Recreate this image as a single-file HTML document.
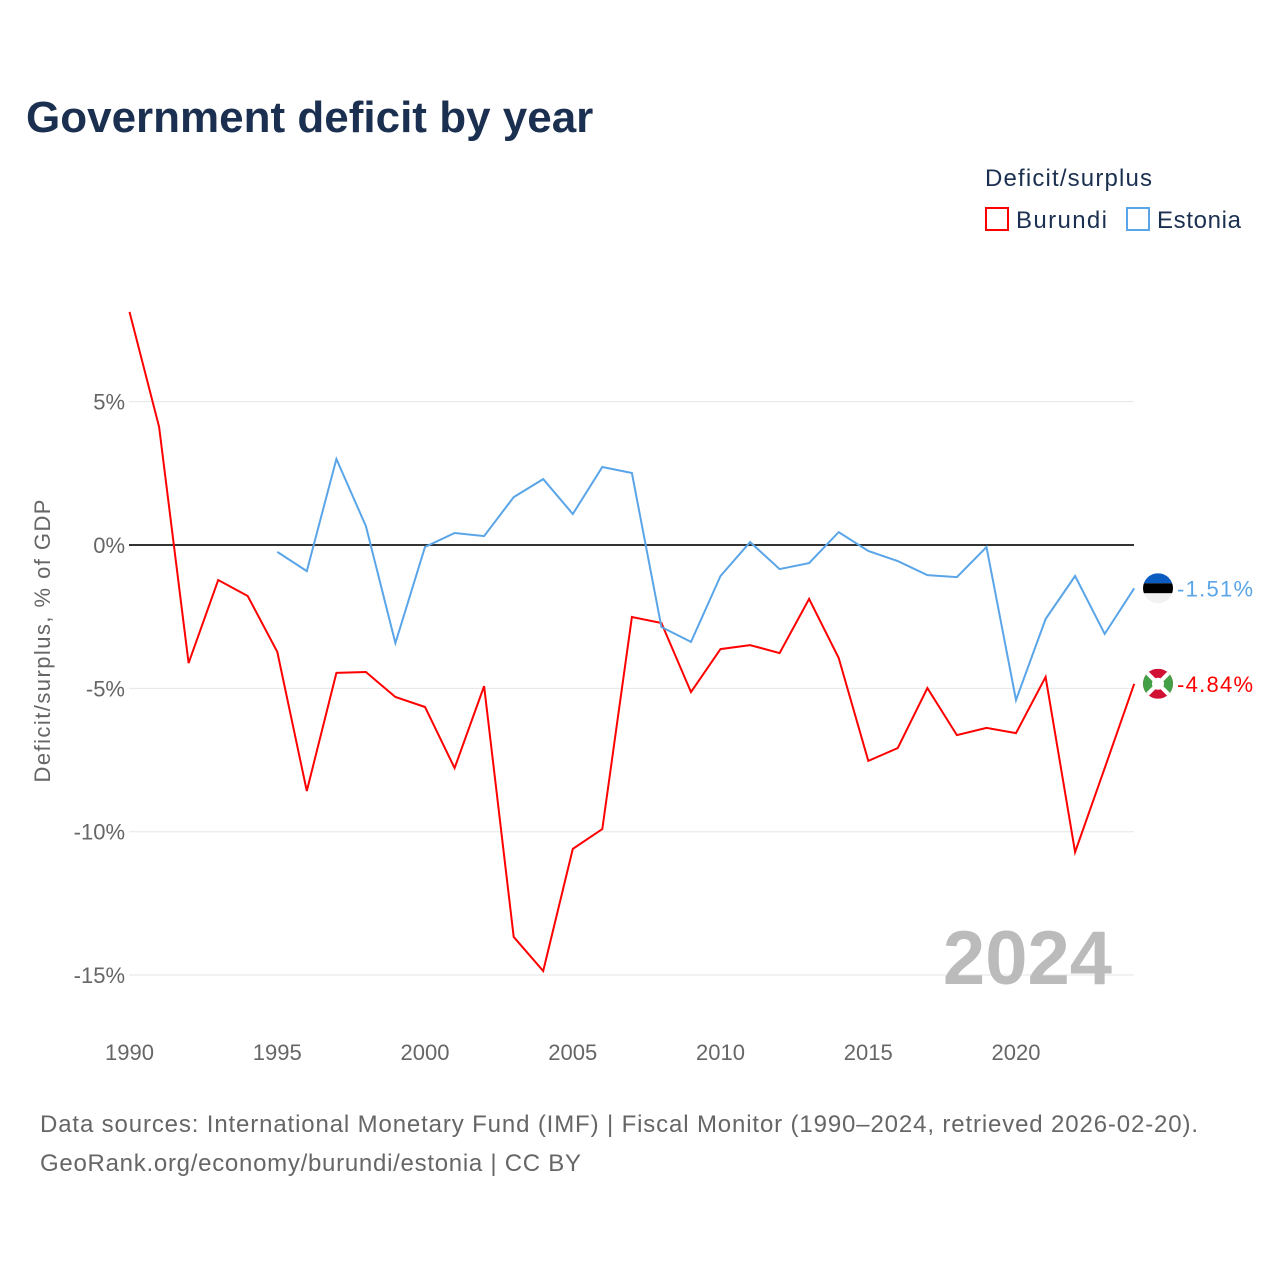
<!DOCTYPE html>
<html><head><meta charset="utf-8"><style>
body{margin:0;background:#fff;font-family:"Liberation Sans",sans-serif}
svg text{font-family:"Liberation Sans",sans-serif}
</style></head><body>
<svg width="1280" height="1280" xmlns="http://www.w3.org/2000/svg">
<text x="26" y="132" font-size="44" font-weight="bold" fill="#1b3050">Government deficit by year</text>
<text x="985" y="186" font-size="24" fill="#1b3050" textLength="167">Deficit/surplus</text>
<g><rect x="986" y="208" width="22" height="22" fill="none" stroke="#f00" stroke-width="2"/><text x="1016" y="228" font-size="24" fill="#1b3050" textLength="91">Burundi</text></g>
<g><rect x="1127" y="208" width="22" height="22" fill="none" stroke="#5aa5e8" stroke-width="2"/><text x="1157" y="228" font-size="24" fill="#1b3050" textLength="84">Estonia</text></g>
<text transform="translate(50,641) rotate(-90)" text-anchor="middle" font-size="22" fill="#666" textLength="283">Deficit/surplus, % of GDP</text>
<g id="grid"></g><g id="series"></g>
<text x="1112" y="984" text-anchor="end" font-size="76" font-weight="bold" fill="#bbb">2024</text>
<text x="40" y="1132" font-size="24" fill="#666" textLength="1158">Data sources: International Monetary Fund (IMF) | Fiscal Monitor (1990–2024, retrieved 2026-02-20).</text>
<text x="40" y="1171" font-size="24" fill="#666" textLength="541">GeoRank.org/economy/burundi/estonia | CC BY</text>
</svg>
<script>
const years=[];for(let y=1990;y<=2024;y++)years.push(y);
const burundi=[8.13,4.12,-4.12,-1.22,-1.78,-3.73,-8.58,-4.46,-4.43,-5.30,-5.65,-7.78,-4.92,-13.67,-14.86,-10.60,-9.91,-2.51,-2.72,-5.13,-3.63,-3.49,-3.77,-1.88,-3.94,-7.53,-7.08,-4.99,-6.63,-6.38,-6.56,-4.60,-10.71,-7.78,-4.84];
const estonia=[null,null,null,null,null,-0.24,-0.91,3.0,0.66,-3.42,-0.07,0.42,0.31,1.67,2.30,1.08,2.72,2.51,-2.86,-3.38,-1.08,0.10,-0.84,-0.63,0.45,-0.21,-0.56,-1.05,-1.12,-0.07,-5.41,-2.58,-1.08,-3.10,-1.51];
const yTicks=[5,0,-5,-10,-15];
const xTicks=[1990,1995,2000,2005,2010,2015,2020];
const X=y=>129.5+(y-1990)*29.55;
const Y=v=>545-v*28.67;
const NS="http://www.w3.org/2000/svg";
function mk(t,a,p){const e=document.createElementNS(NS,t);for(const k in a)e.setAttribute(k,a[k]);p.appendChild(e);return e;}
const g=document.getElementById('grid'),s=document.getElementById('series');
yTicks.forEach(v=>{
 const l=mk('line',{x1:129,x2:1134,y1:Y(v),y2:Y(v),stroke:v===0?'#333':'#e6e6e6','stroke-width':v===0?2:1},g);
 
 
 const t=mk('text',{x:125,y:Y(v)+8,'text-anchor':'end','font-size':22,fill:'#666'},g);t.textContent=v+'%';
 
 
});
xTicks.forEach(v=>{
 const t=mk('text',{x:X(v),y:1060,'text-anchor':'middle','font-size':22,fill:'#666'},g);t.textContent=v;
 
 
});
function line(data,color,name){
 let d='';data.forEach((v,i)=>{if(v===null)return;d+=(d?'L':'M')+X(years[i]).toFixed(1)+','+Y(v).toFixed(1);});
 const p=mk('path',{d:d,fill:'none',stroke:color,'stroke-width':2},s);
 
 
 const last=data[data.length-1];
 const t=mk('text',{x:1177,y:Y(last)+8,'font-size':22,fill:color,textLength:76},s);t.textContent=last.toFixed(2)+'%';
 
 
 return Y(last);
}
const yb=line(burundi,'#f00','burundi');
const ye=line(estonia,'#5aa5e8','estonia');
const fe=mk('g',{},s);


const ceP=mk('clipPath',{id:'ce'},fe);mk('circle',{cx:1158,cy:ye,r:15},ceP);
const ge=mk('g',{'clip-path':'url(#ce)'},fe);
mk('rect',{x:1143,y:ye-15,width:30,height:10,fill:'#0a5cc0'},ge);
mk('rect',{x:1143,y:ye-5,width:30,height:10,fill:'#000'},ge);
mk('rect',{x:1143,y:ye+5,width:30,height:10,fill:'#f2f2f2'},ge);
const fb=mk('g',{},s);


const cb=mk('clipPath',{id:'cb'},fb);mk('circle',{cx:1158,cy:yb,r:15},cb);
const gb=mk('g',{'clip-path':'url(#cb)'},fb);
mk('rect',{x:1143,y:yb-15,width:30,height:30,fill:'#d21034'},gb);
mk('polygon',{points:`1143,${yb-15} 1158,${yb} 1143,${yb+15}`,fill:'#43a047'},gb);
mk('polygon',{points:`1173,${yb-15} 1158,${yb} 1173,${yb+15}`,fill:'#43a047'},gb);
mk('line',{x1:1143,y1:yb-15,x2:1173,y2:yb+15,stroke:'#fff','stroke-width':4},gb);
mk('line',{x1:1173,y1:yb-15,x2:1143,y2:yb+15,stroke:'#fff','stroke-width':4},gb);
mk('circle',{cx:1158,cy:yb,r:6,fill:'#fff'},gb);
</script>
</body></html>
